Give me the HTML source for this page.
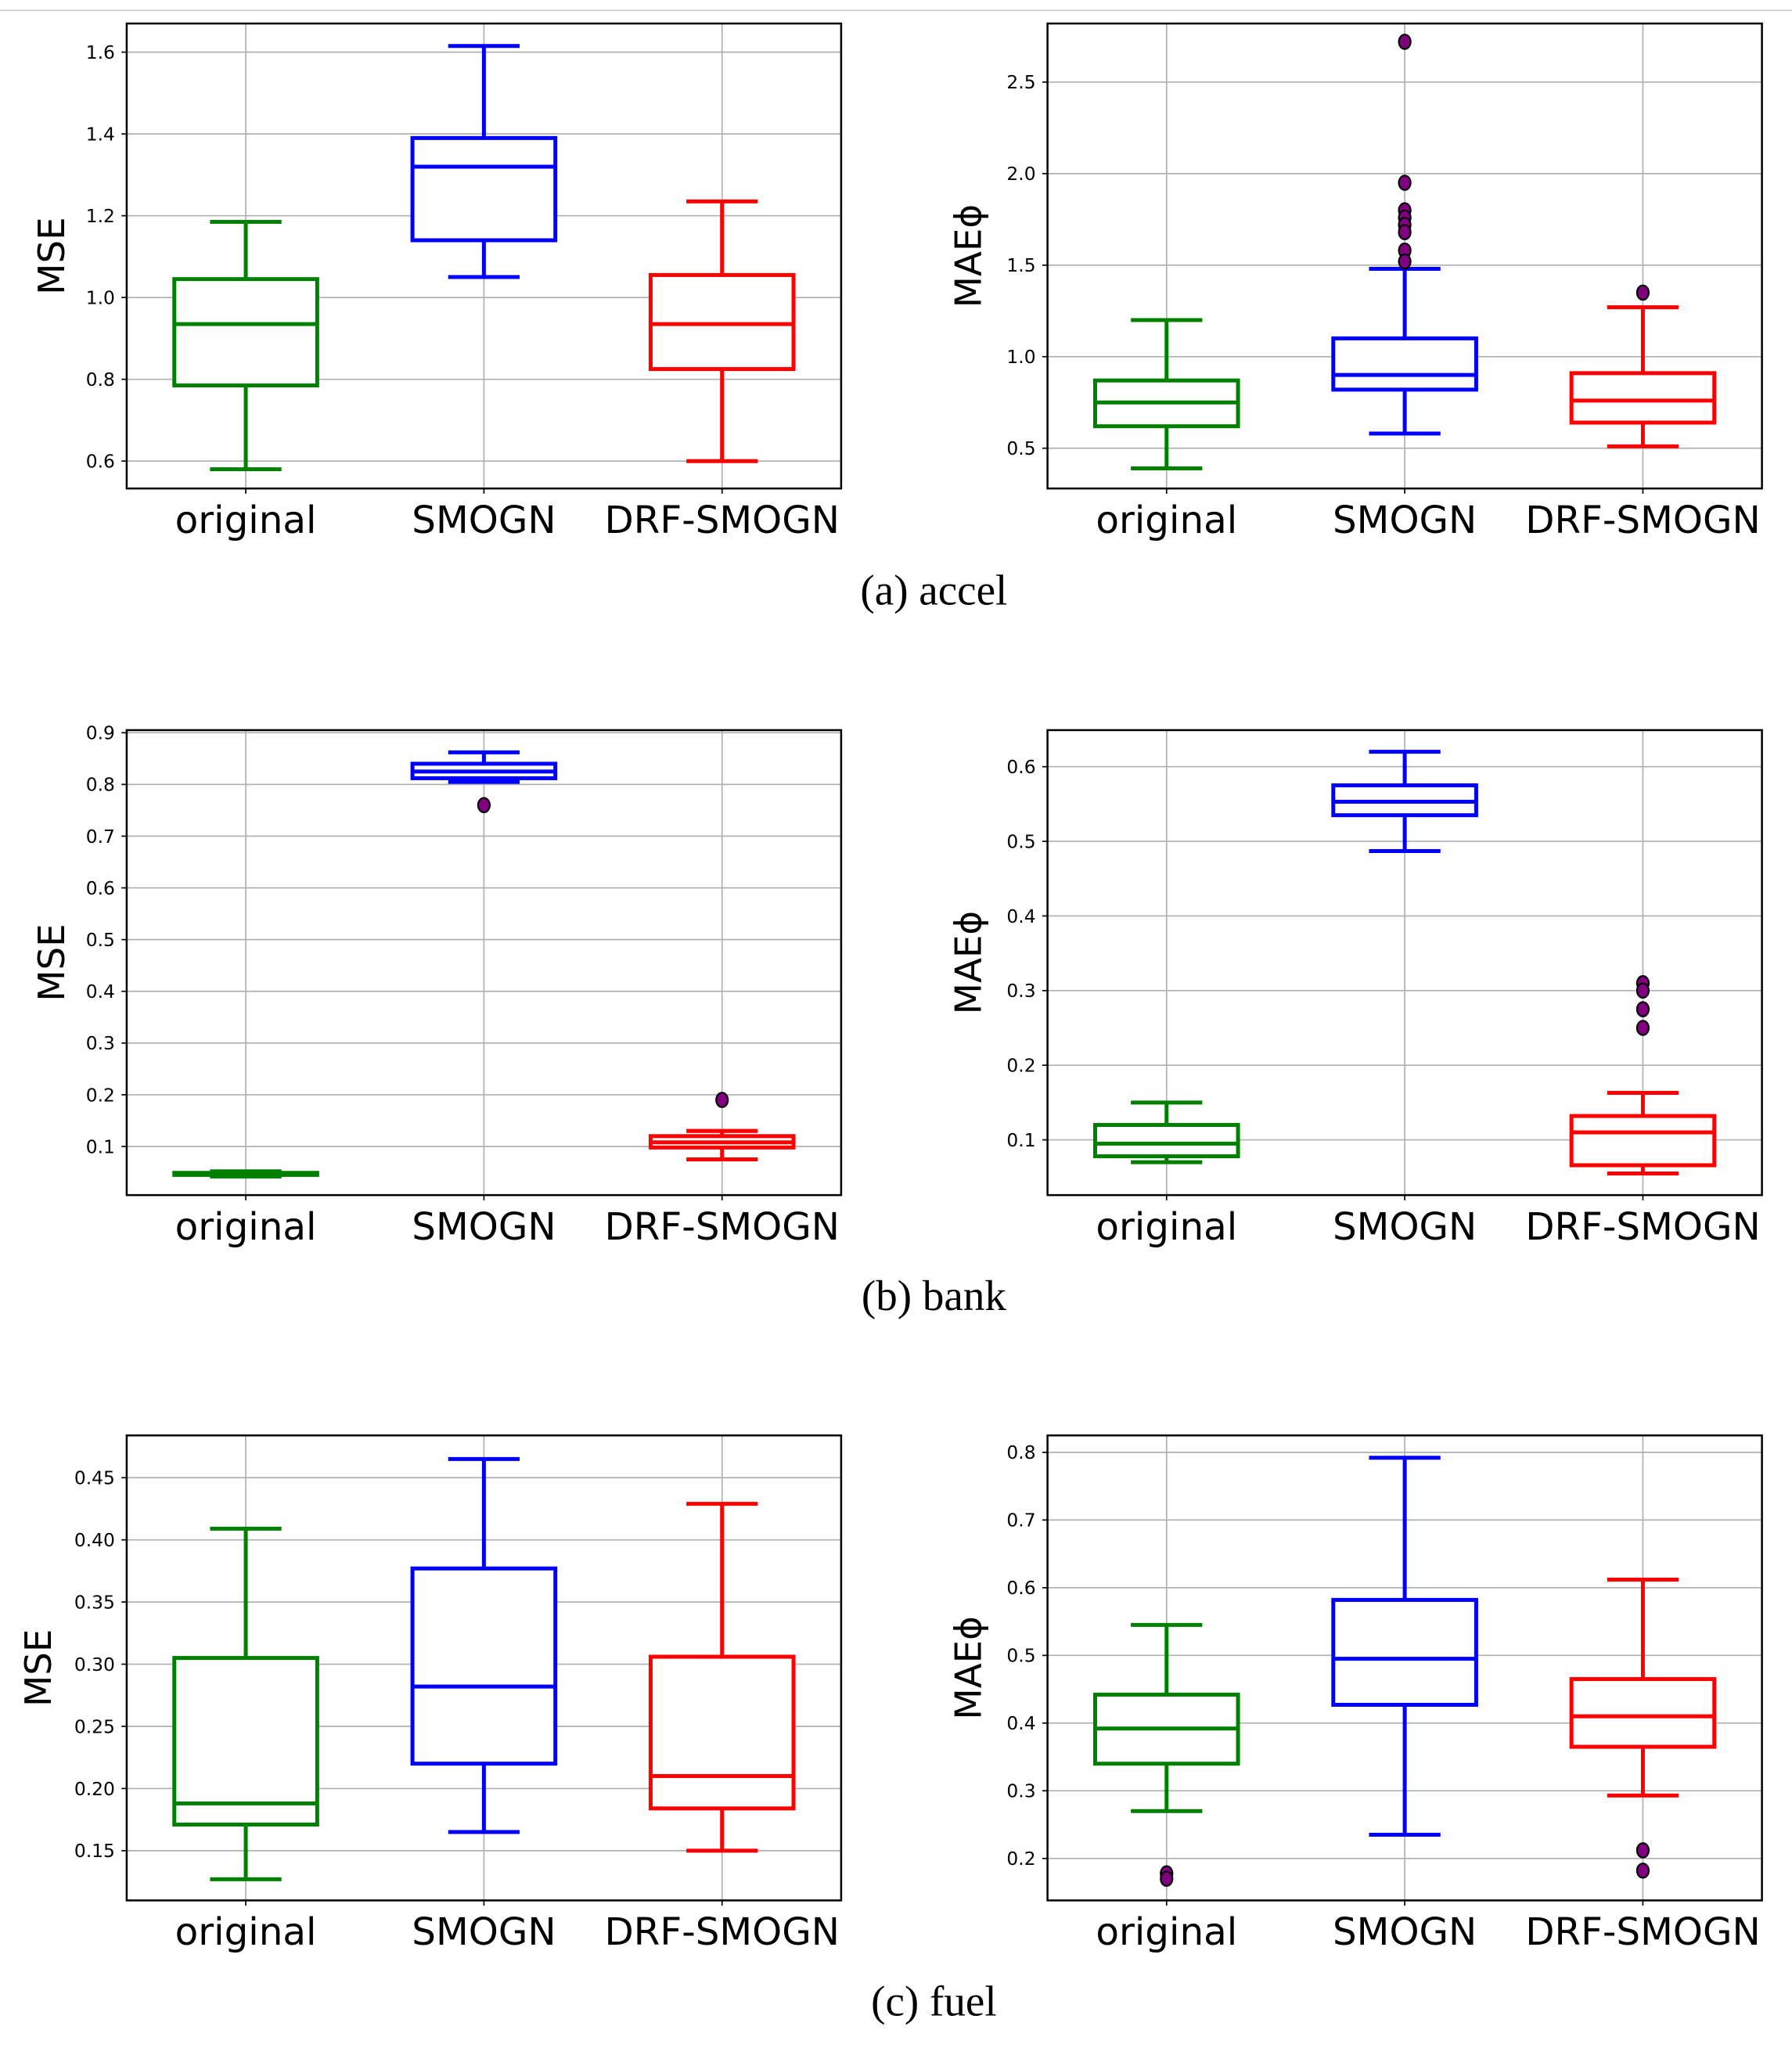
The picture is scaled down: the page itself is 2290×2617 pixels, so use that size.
<!DOCTYPE html>
<html><head><meta charset="utf-8"><style>
html,body{margin:0;padding:0;background:#fff;}
svg{display:block;}
</style></head><body>
<svg id="fig" xmlns="http://www.w3.org/2000/svg" width="2290" height="2617" viewBox="0 0 1372 1568" preserveAspectRatio="none">
<line x1="0" y1="8" x2="1372" y2="8" stroke="#ccc" stroke-width="1"/>
</svg>
<script>
const categories = ["original","SMOGN","DRF-SMOGN"];
const colors = ["#008000","#0000ff","#ff0000"];
// per-panel data: [whislo,q1,med,q3,whishi]
const accelMseBoxes = [[0.58,0.785,0.935,1.045,1.185],[1.05,1.14,1.32,1.39,1.615],[0.60,0.825,0.935,1.055,1.235]];
const accelMseFliers = [[],[],[]];
const accelMseTicks = [0.6,0.8,1.0,1.2,1.4,1.6];
const accelMaeBoxes = [[0.39,0.62,0.75,0.87,1.2],[0.58,0.82,0.9,1.1,1.48],[0.51,0.64,0.76,0.91,1.27]];
const accelMaeFliers = [[],[2.72,1.95,1.8,1.76,1.72,1.68,1.58,1.52],[1.35]];
const accelMaeTicks = [0.5,1.0,1.5,2.0,2.5];
const bankMseBoxes = [[0.042,0.045,0.047,0.049,0.052],[0.805,0.812,0.825,0.84,0.862],[0.075,0.098,0.108,0.12,0.13]];
const bankMseFliers = [[],[0.76],[0.19]];
const bankMseTicks = [0.1,0.2,0.3,0.4,0.5,0.6,0.7,0.8,0.9];
const bankMaeBoxes = [[0.07,0.078,0.095,0.12,0.15],[0.487,0.535,0.553,0.575,0.62],[0.055,0.066,0.11,0.132,0.163]];
const bankMaeFliers = [[],[],[0.31,0.30,0.275,0.25]];
const bankMaeTicks = [0.1,0.2,0.3,0.4,0.5,0.6];
const fuelMseBoxes = [[0.127,0.171,0.188,0.305,0.409],[0.165,0.22,0.282,0.377,0.465],[0.15,0.184,0.21,0.306,0.429]];
const fuelMseFliers = [[],[],[]];
const fuelMseTicks = [0.15,0.20,0.25,0.30,0.35,0.40,0.45];
const fuelMaeBoxes = [[0.27,0.34,0.392,0.442,0.545],[0.235,0.427,0.495,0.582,0.792],[0.293,0.365,0.41,0.465,0.612]];
const fuelMaeFliers = [[0.178,0.170],[],[0.212,0.182]];
const fuelMaeTicks = [0.2,0.3,0.4,0.5,0.6,0.7,0.8];

const panels = [
 {name:"accel-mse",x:97,y:18,ylab:"MSE",lx:49,lim:[0.533,1.670],b:accelMseBoxes,f:accelMseFliers,t:accelMseTicks,d:1},
 {name:"accel-mae",x:802,y:18,ylab:"MAEϕ",lx:751,lim:[0.28,2.82],b:accelMaeBoxes,f:accelMaeFliers,t:accelMaeTicks,d:1},
 {name:"bank-mse",x:97,y:559,ylab:"MSE",lx:49,lim:[0.006,0.905],b:bankMseBoxes,f:bankMseFliers,t:bankMseTicks,d:1},
 {name:"bank-mae",x:802,y:559,ylab:"MAEϕ",lx:751,lim:[0.026,0.649],b:bankMaeBoxes,f:bankMaeFliers,t:bankMaeTicks,d:1},
 {name:"fuel-mse",x:97,y:1099,ylab:"MSE",lx:39,lim:[0.110,0.484],b:fuelMseBoxes,f:fuelMseFliers,t:fuelMseTicks,d:2},
 {name:"fuel-mae",x:802,y:1099,ylab:"MAEϕ",lx:751,lim:[0.138,0.825],b:fuelMaeBoxes,f:fuelMaeFliers,t:fuelMaeTicks,d:1}
];
const captions = [["(a) accel",453],["(b) bank",993],["(c) fuel",1533]];
const W=547,H=356;
const NS="http://www.w3.org/2000/svg";
const svg=document.getElementById("fig");
function mk(tag,attrs,parent){const e=document.createElementNS(NS,tag);for(const k in attrs)e.setAttribute(k,attrs[k]);(parent||svg).appendChild(e);return e;}
panels.forEach(p=>{
  const g=mk("g",{});
  
  
  const sx=v=>p.x+(v-0.5)/3*W;
  const sy=v=>p.y+H-(v-p.lim[0])/(p.lim[1]-p.lim[0])*H;
  p.t.forEach(t=>{
    const l=mk("line",{x1:p.x,x2:p.x+W,y1:sy(t),y2:sy(t),stroke:"#b0b0b0","stroke-width":1},g);
    
    
    const tk=mk("line",{x1:p.x-4,x2:p.x,y1:sy(t),y2:sy(t),stroke:"#000","stroke-width":1},g);
    
    
    const tx=mk("text",{x:p.x-9,y:sy(t)+5,"text-anchor":"end","font-family":"DejaVu Sans, Liberation Sans, sans-serif","font-size":14},g);
    tx.textContent=t.toFixed(p.d);
    
    
  });
  categories.forEach((c,i)=>{
    const cx=sx(i+1);
    const l=mk("line",{x1:cx,x2:cx,y1:p.y,y2:p.y+H,stroke:"#b0b0b0","stroke-width":1},g);
    
    
    const tk=mk("line",{x1:cx,x2:cx,y1:p.y+H,y2:p.y+H+4,stroke:"#000","stroke-width":1},g);
    
    
    const tx=mk("text",{x:cx,y:p.y+H+34,"text-anchor":"middle","font-family":"DejaVu Sans, Liberation Sans, sans-serif","font-size":29},g);
    tx.textContent=c;
    
    
  });
  p.b.forEach((b,i)=>{
    const cx=sx(i+1),col=colors[i];
    const bw=0.6/3*W/2, cw=0.3/3*W/2;
    const bg=mk("g",{stroke:col,"stroke-width":3,fill:"none"},g);
    
    
    mk("line",{x1:cx,x2:cx,y1:sy(b[0]),y2:sy(b[1])},bg);
    mk("line",{x1:cx,x2:cx,y1:sy(b[3]),y2:sy(b[4])},bg);
    mk("line",{x1:cx-cw,x2:cx+cw,y1:sy(b[0]),y2:sy(b[0])},bg);
    mk("line",{x1:cx-cw,x2:cx+cw,y1:sy(b[4]),y2:sy(b[4])},bg);
    mk("rect",{x:cx-bw,y:sy(b[3]),width:2*bw,height:sy(b[1])-sy(b[3]),fill:"#fff"},bg);
    mk("line",{x1:cx-bw,x2:cx+bw,y1:sy(b[2]),y2:sy(b[2])},bg);
    p.f[i].forEach(v=>{
      const c=mk("ellipse",{cx:cx,cy:sy(v),rx:4.5,ry:5.5,fill:"#800080",stroke:"#000","stroke-width":1.3},g);
      
      
    });
  });
  const fr=mk("rect",{x:p.x,y:p.y,width:W,height:H,fill:"none",stroke:"#000","stroke-width":1.5},g);
  
  
  const yl=mk("text",{x:0,y:0,"text-anchor":"middle","font-family":"DejaVu Sans, Liberation Sans, sans-serif","font-size":28,transform:"translate("+p.lx+","+(p.y+H/2)+") rotate(-90)"},g);
  yl.textContent=p.ylab;
  
  
});
captions.forEach(c=>{
  const t=mk("text",{x:715,y:c[1]+10,"text-anchor":"middle","font-family":"Liberation Serif, serif","font-size":33});
  t.textContent=c[0];
  
  
});
</script>
</body></html>
